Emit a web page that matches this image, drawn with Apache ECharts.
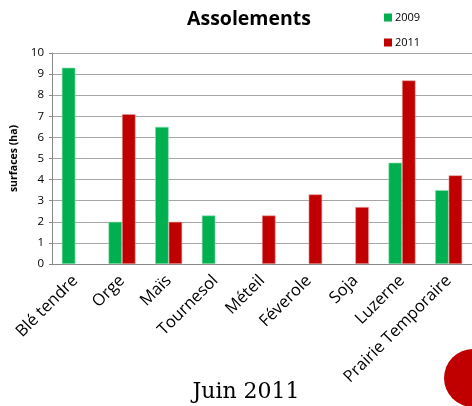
<!DOCTYPE html>
<html><head><meta charset="utf-8">
<script src="https://cdn.jsdelivr.net/npm/echarts@6/dist/echarts.min.js"></script>
<style>html,body{margin:0;padding:0;background:#fff}#c{width:472px;height:406px}</style>
</head><body><div id="c"></div>
<script>
var categories = ['Blé tendre','Orge','Maïs','Tournesol','Méteil','Féverole','Soja','Luzerne','Prairie Temporaire'];
var values2009 = [9.3, 2.0, 6.5, 2.3, null, null, null, 4.8, 3.5];
var values2011 = [null, 7.1, 2.0, null, 2.3, 3.3, 2.7, 8.7, 4.2];
var yTicks = [0,1,2,3,4,5,6,7,8,9,10];

var font = '"Open Sans", "Liberation Sans", sans-serif';
var chart = echarts.init(document.getElementById('c'), null, {renderer:'canvas'});
chart.setOption({
  animation: false,
  title: {text: 'Assolements', left: 244, textAlign: 'center', top: 4,
    textStyle: {fontFamily: font, fontSize: 19.5, fontWeight: 'bold', color: '#000'}},
  legend: {orient: 'vertical', left: 379, top: 7, itemGap: 14, itemWidth: 8, itemHeight: 8,
    icon: 'rect', itemStyle: {borderWidth: 0},
    textStyle: {fontFamily: font, fontSize: 11, color: '#000', padding:[0,0,0,-2]},
    data: ['2009','2011']},
  grid: {left: 52, right: -6, top: 53, bottom: 142, containLabel: false},
  xAxis: {type: 'category', data: categories,
    axisLine: {lineStyle: {color: '#888'}}, axisTick: {show: false},
    axisLabel: {rotate: 45, interval: 0, fontFamily: font, fontSize: 16.5, color: '#000', margin: 14}},
  yAxis: {type: 'value', min: yTicks[0], max: yTicks[yTicks.length-1], interval: 1,
    name: 'surfaces (ha)', nameLocation: 'middle', nameGap: 32,
    nameTextStyle: {fontFamily: font, fontSize: 10.5, fontWeight: 'bold', color: '#000'},
    axisLine: {show: true, lineStyle: {color: '#888'}},
    axisTick: {show: true, length: 3, lineStyle: {color: '#888'}},
    splitLine: {lineStyle: {color: '#a6a6a6'}},
    axisLabel: {fontFamily: font, fontSize: 11.5, color: '#000', margin: 8}},
  series: [
    {name: '2009', type: 'bar', data: values2009, barWidth: 13.5, barGap: '0%',
      itemStyle: {color: '#00b050', borderColor: '#8fe0b0', borderWidth: 0.6}},
    {name: '2011', type: 'bar', data: values2011, barWidth: 13.5, barGap: '0%',
      itemStyle: {color: '#c00000', borderColor: '#ea9a9a', borderWidth: 0.6}}
  ],
  graphic: [
    {type: 'text', style: {text: 'Juin 2011', x: 246, y: 392, textAlign: 'center', textVerticalAlign: 'middle',
      font: '22px "DejaVu Serif", "Liberation Serif", serif', fill: '#000'}},
    {type: 'circle', shape: {cx: 473, cy: 378, r: 29}, style: {fill: '#c00000'}}
  ]
});
</script></body></html>
